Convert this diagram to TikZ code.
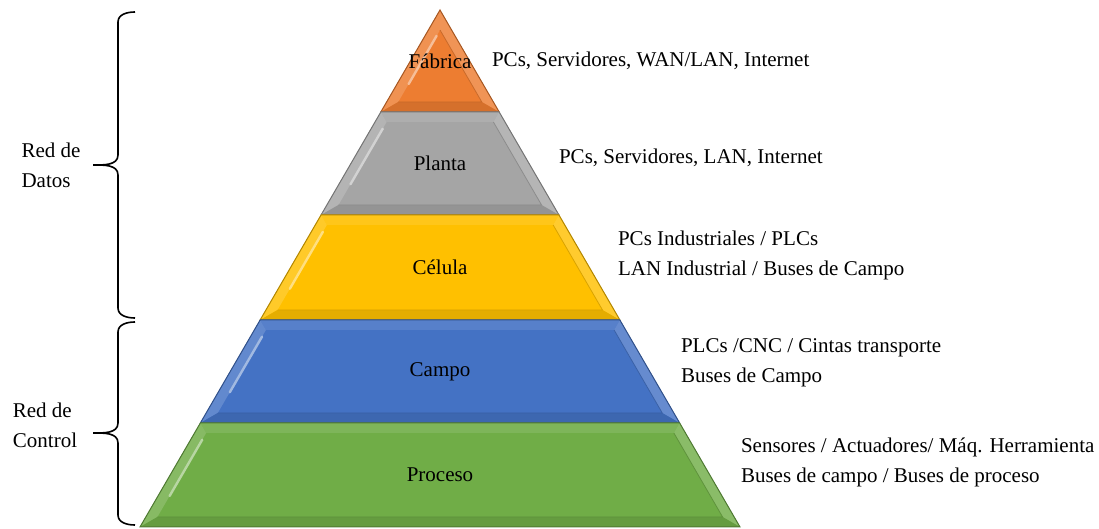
\documentclass[tikz,border=0pt]{standalone}
\usepackage{fontspec}
\setmainfont{Liberation Serif}
\usetikzlibrary{calc}
\definecolor{fabrica}{HTML}{ED7D31}
\definecolor{planta}{HTML}{A5A5A5}
\definecolor{celula}{HTML}{FFC000}
\definecolor{campo}{HTML}{4472C4}
\definecolor{proceso}{HTML}{70AD47}
\tikzset{
  lvl/.style={font=\fontsize{10.5}{15}\selectfont},
  info/.style={font=\fontsize{10.5}{15}\selectfont,anchor=west,align=left},
  side/.style={font=\fontsize{10.5}{15}\selectfont,align=left},
  brace/.style={line width=.8pt,black}
}
% one level of the pyramid: top y, bottom y, colour, name, label
% half width at y is .58027*(y-10), apex at (440,10)
\newcommand{\pyrlevel}[5]{%
  \pgfmathsetmacro{\wt}{.58027*(#1-10)}
  \pgfmathsetmacro{\wb}{.58027*(#2-10)}
  \pgfmathsetmacro{\yit}{max(#1+10,30)}
  \pgfmathsetmacro{\yib}{#2-10}
  \pgfmathsetmacro{\wit}{max(.58027*(\yit-10)-11.6,0)}
  \pgfmathsetmacro{\wib}{.58027*(\yib-10)-11.6}
  \coordinate (#4-tl) at (440-\wt,#1);
  \coordinate (#4-tr) at (440+\wt,#1);
  \coordinate (#4-br) at (440+\wb,#2);
  \coordinate (#4-bl) at (440-\wb,#2);
  \coordinate (#4-itl) at (440-\wit,\yit);
  \coordinate (#4-itr) at (440+\wit,\yit);
  \coordinate (#4-ibr) at (440+\wib,\yib);
  \coordinate (#4-ibl) at (440-\wib,\yib);
  \fill[#3] (#4-tl) -- (#4-tr) -- (#4-br) -- (#4-bl) -- cycle;
  \fill[#3!90!white] (#4-tl) -- (#4-itl) -- (#4-itr) -- (#4-tr) -- cycle;
  \fill[#3!84!white] (#4-tl) -- (#4-itl) -- (#4-ibl) -- (#4-bl) -- cycle;
  \fill[#3!82!white] (#4-tr) -- (#4-itr) -- (#4-ibr) -- (#4-br) -- cycle;
  \fill[#3!90!black] (#4-bl) -- (#4-ibl) -- (#4-ibr) -- (#4-br) -- cycle;
  \draw[#3!85!black,line width=.4pt] (#4-itr) -- (#4-ibr) -- (#4-ibl);
  \draw[#3!50!white,line width=1.2pt,line cap=round]
    ($(#4-itl)!.08!(#4-ibl)$) -- ($(#4-itl)!.75!(#4-ibl)$);
  \draw[#3!70!black,line width=.5pt] (#4-tl) -- (#4-tr) -- (#4-br) -- (#4-bl) -- cycle;
  \node[lvl] (#4) at (440,{(#1+#2)/2}) {#5};
}
\begin{document}
\begin{tikzpicture}[x=.5pt,y=-.5pt]
\useasboundingbox (0,0) rectangle (1099,529);
% pyramid
\pyrlevel{10}{112}{fabrica}{fab}{Fábrica}
\pyrlevel{112}{215}{planta}{pla}{Planta}
\pyrlevel{215}{320}{celula}{cel}{Célula}
\pyrlevel{320}{423}{campo}{cam}{Campo}
\pyrlevel{423}{527}{proceso}{pro}{Proceso}
% what lives on each level
\node[info] (fabinfo) at (485,61) {PCs, Servidores, WAN/LAN, Internet};
\node[info] (plainfo) at (552,158) {PCs, Servidores, LAN, Internet};
\node[info] (celinfo) at (611,255) {PCs Industriales / PLCs\\LAN Industrial / Buses de Campo};
\node[info] (caminfo) at (674,363) {PLCs /CNC / Cintas transporte\\Buses de Campo};
\node[info] (proinfo) at (734,462) {Sensores / Actuadores/ Máq. Herramienta\\Buses de campo / Buses de proceso};
% braces
\coordinate (datos-t) at (135,12);
\coordinate (datos-b) at (135,318);
\coordinate (datos-m) at (93,165);
\coordinate (ctrl-t) at (135,322);
\coordinate (ctrl-b) at (135,525);
\coordinate (ctrl-m) at (93,433);
\draw[brace] (datos-t) to[out=180,in=90] (118,22) -- (118,155)
  to[out=-90,in=0] (datos-m) to[out=0,in=90] (118,175) -- (118,308)
  to[out=-90,in=180] (datos-b);
\draw[brace] (ctrl-t) to[out=180,in=90] (118,332) -- (118,423)
  to[out=-90,in=0] (ctrl-m) to[out=0,in=90] (118,443) -- (118,515)
  to[out=-90,in=180] (ctrl-b);
\node[side] (datos) at (51,165) {Red de\\Datos};
\node[side] (control) at (45,425) {Red de\\Control};
\end{tikzpicture}
\end{document}
